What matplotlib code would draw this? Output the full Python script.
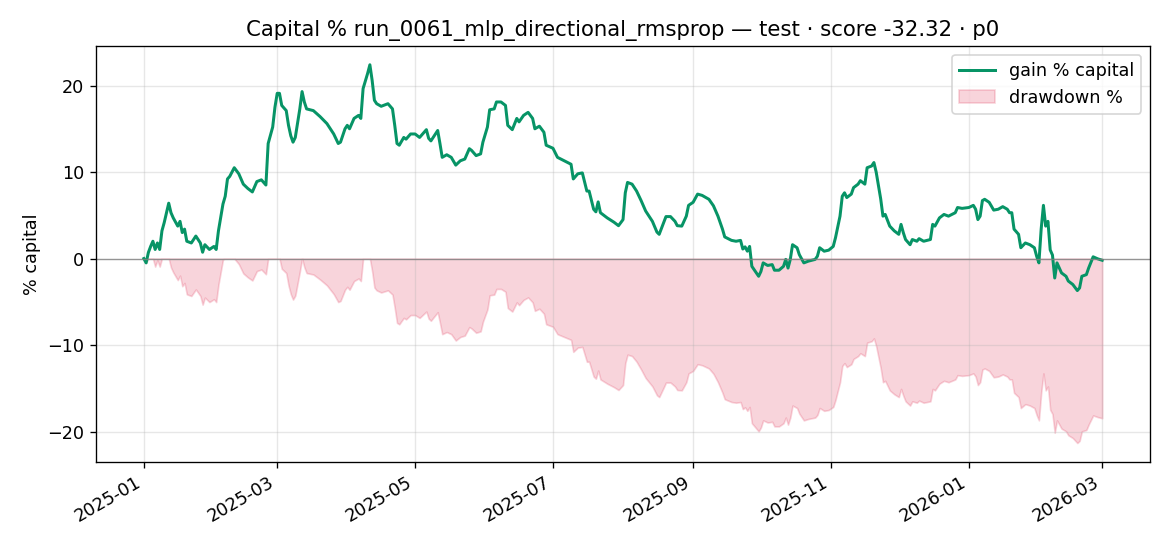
import numpy as np
import pandas as pd
import matplotlib
matplotlib.use("Agg")
import matplotlib.pyplot as plt
import matplotlib.dates as mdates

plt.rcParams["font.size"] = 10.6

start_date = "2025-01-01"
day_offsets = [0, 1, 2, 3, 4, 5, 6, 7, 8, 9, 11, 12, 13, 15, 16, 17, 18, 19, 21, 23, 25, 26, 27, 29, 31, 32, 33, 35, 36, 37, 38, 40, 42, 44, 46, 48, 50, 52, 54, 55, 57, 58, 59, 60, 61, 63, 64, 65, 66, 67, 69, 70, 71, 72, 75, 78, 81, 84, 86, 87, 89, 90, 91, 93, 95, 96, 97, 99, 100, 101, 102, 103, 105, 108, 110, 111, 112, 113, 115, 116, 118, 120, 122, 125, 126, 127, 129, 130, 131, 132, 134, 136, 138, 140, 142, 144, 145, 147, 149, 150, 152, 153, 155, 156, 158, 160, 161, 163, 165, 166, 168, 170, 172, 173, 175, 177, 178, 181, 183, 186, 189, 190, 192, 194, 196, 197, 199, 200, 201, 202, 205, 208, 210, 212, 213, 214, 216, 218, 220, 222, 225, 227, 228, 230, 231, 233, 235, 236, 238, 240, 241, 243, 245, 247, 250, 252, 254, 256, 257, 260, 262, 264, 265, 266, 267, 268, 269, 272, 273, 274, 276, 278, 279, 281, 283, 284, 285, 286, 287, 289, 290, 292, 294, 297, 298, 299, 301, 303, 305, 306, 308, 309, 310, 311, 313, 314, 316, 317, 319, 320, 322, 323, 324, 326, 327, 328, 330, 332, 334, 335, 336, 337, 339, 340, 342, 343, 345, 348, 349, 350, 352, 354, 356, 359, 360, 362, 365, 367, 368, 369, 370, 371, 372, 374, 376, 378, 380, 382, 383, 384, 385, 387, 388, 390, 392, 394, 395, 396, 397, 398, 399, 400, 401, 402, 403, 404, 406, 408, 409, 411, 413, 414, 415, 417, 418, 420, 422, 424]
gain_pct = [0.0, -0.5, 0.7, 1.4, 2.0, 1.05, 1.8, 1.05, 3.2, 4.15, 6.4, 5.3, 4.7, 3.75, 4.3, 3.0, 3.4, 2.0, 1.8, 2.6, 1.8, 0.73, 1.6, 1.05, 1.4, 1.05, 3.2, 6.3, 7.2, 9.2, 9.5, 10.5, 9.8, 8.6, 8.1, 7.7, 8.9, 9.1, 8.5, 13.3, 15.2, 17.5, 19.1, 19.1, 17.7, 17.1, 15.4, 14.2, 13.45, 14.0, 17.3, 19.3, 18.1, 17.3, 17.1, 16.4, 15.6, 14.4, 13.3, 13.45, 15.0, 15.4, 15.0, 16.2, 16.55, 16.2, 19.65, 21.4, 22.4, 20.6, 18.3, 17.9, 17.6, 17.9, 17.3, 15.4, 13.3, 13.1, 14.0, 13.8, 14.4, 14.4, 14.0, 14.9, 13.9, 13.6, 14.4, 14.8, 13.3, 11.7, 12.0, 11.7, 10.8, 11.3, 11.5, 12.7, 12.5, 11.9, 12.1, 13.45, 15.2, 17.2, 17.3, 18.1, 18.1, 17.7, 15.4, 14.9, 16.2, 15.8, 16.55, 16.9, 16.2, 15.0, 15.3, 14.6, 13.1, 12.75, 11.7, 11.3, 10.9, 9.2, 9.8, 9.9, 7.8, 7.8, 5.7, 5.4, 6.55, 5.3, 4.7, 4.2, 3.8, 4.5, 7.6, 8.8, 8.6, 7.8, 6.7, 5.5, 4.3, 3.06, 2.8, 4.15, 4.85, 4.85, 4.3, 3.8, 3.75, 4.9, 6.15, 6.5, 7.45, 7.3, 6.85, 6.1, 4.9, 3.4, 2.5, 2.1, 2.0, 2.1, 1.1, 1.35, 0.85, 1.4, -0.9, -2.05, -1.5, -0.5, -0.8, -0.7, -1.35, -1.35, -0.9, -0.1, -1.1, -0.1, 1.6, 1.25, 0.45, -0.5, -0.3, -0.1, 0.27, 1.25, 0.85, 0.97, 1.4, 2.4, 4.9, 7.2, 7.6, 7.05, 7.45, 8.2, 8.6, 9.0, 8.6, 10.5, 10.7, 11.1, 10.0, 6.9, 4.9, 5.1, 3.75, 3.2, 2.8, 3.95, 3.0, 2.2, 1.6, 2.2, 2.0, 2.3, 2.0, 2.2, 3.95, 3.75, 4.7, 5.1, 4.9, 5.3, 5.9, 5.8, 5.9, 6.15, 5.7, 4.5, 4.9, 6.7, 6.85, 6.5, 5.6, 5.7, 6.0, 5.7, 5.3, 5.3, 3.4, 2.8, 1.25, 1.8, 1.6, 1.25, 0.27, -0.5, 3.4, 6.15, 3.75, 4.3, 1.0, 0.4, -2.25, -0.5, -1.66, -2.05, -2.6, -3.0, -3.7, -3.4, -2.05, -1.86, -1.1, 0.2, -0.03, -0.2]

title_text = "Capital % run_0061_mlp_directional_rmsprop \u2014 test \u00b7 score -32.32 \u00b7 p0"

dates = pd.to_datetime(start_date) + pd.to_timedelta(day_offsets, unit="D")
gain = np.array(gain_pct)
equity = 1 + gain / 100.0
peak = np.maximum.accumulate(equity)
drawdown = (equity / peak - 1) * 100.0

fig, ax = plt.subplots(figsize=(9.75, 4.55), dpi=120)
fig.subplots_adjust(left=0.082, right=0.983, top=0.916, bottom=0.154)

ax.plot(dates, gain, color="#079466", lw=1.8, label="gain % capital")
ax.fill_between(dates, drawdown, 0, color="crimson", alpha=0.18, label="drawdown %")
ax.axhline(0, color="gray", lw=0.8, alpha=0.8)
ax.grid(True, alpha=0.3)
ax.set_ylabel("% capital")
ax.set_title(title_text)
ax.xaxis.set_major_locator(mdates.MonthLocator(bymonth=[1, 3, 5, 7, 9, 11]))
ax.xaxis.set_major_formatter(mdates.DateFormatter("%Y-%m"))
for lbl in ax.get_xticklabels():
    lbl.set_rotation(30)
    lbl.set_ha("right")
ax.legend(loc="upper right")
fig.savefig("out.png", dpi=120)
